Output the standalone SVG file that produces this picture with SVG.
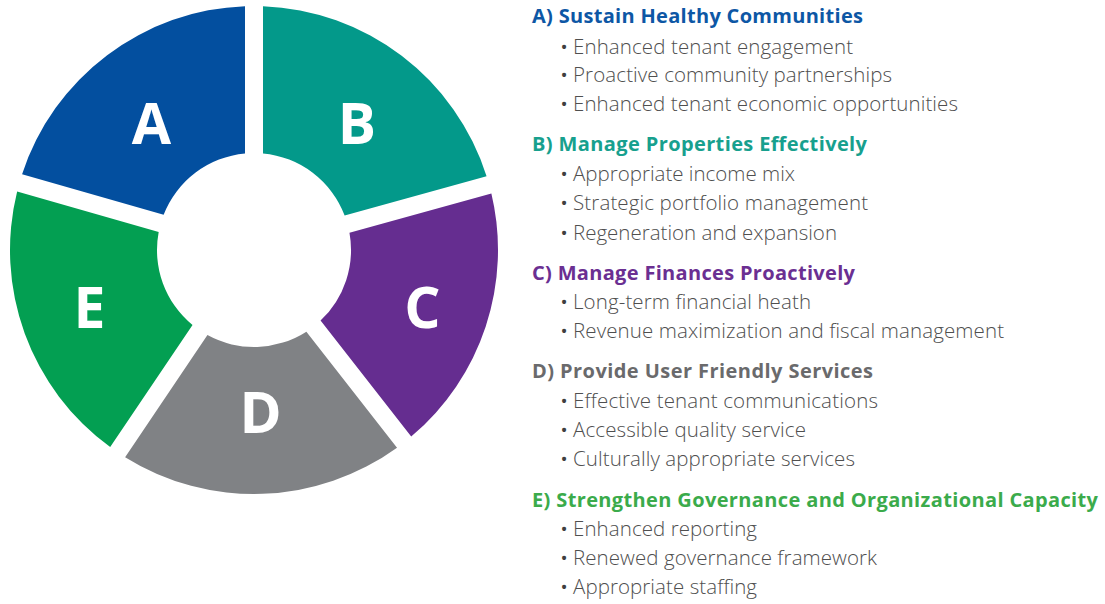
<svg xmlns="http://www.w3.org/2000/svg" width="1105" height="604" viewBox="0 0 1105 604">
<style>
.seg-letter{font-family:"Open Sans","Liberation Sans",sans-serif;font-weight:700;font-size:57px;fill:#ffffff;text-anchor:middle}
.head{font-family:"Open Sans","Liberation Sans",sans-serif;font-weight:700;font-size:20px}
.item{font-family:"Open Sans","Liberation Sans",sans-serif;font-weight:300;font-size:20.5px;fill:#4f4f4f}
.dot{font-family:"Open Sans","Liberation Sans",sans-serif;font-size:19px;fill:#3f3f3f;text-anchor:middle}
</style>
<rect width="1105" height="604" fill="#ffffff"/>
<g id="segment-A">
<path d="M163.64,214.73 L22.10,174.14 A244,244 0 0 1 245,6.17 L245,153.42 A97,97 0 0 0 163.64,214.73 Z" fill="#034f9f"/>
<text class="seg-letter" x="151.5" y="144">A</text>
</g>
<g id="segment-B">
<path d="M263,153.42 L263,6.17 A244,244 0 0 1 486.56,176.17 L344.66,215.52 A97,97 0 0 0 263,153.42 Z" fill="#03998a"/>
<text class="seg-letter" x="357" y="144">B</text>
</g>
<g id="segment-C">
<path d="M349.47,232.86 L491.37,193.51 A244,244 0 0 1 411.21,436.60 L320.55,320.57 A97,97 0 0 0 349.47,232.86 Z" fill="#652d90"/>
<text class="seg-letter" x="422.5" y="328">C</text>
</g>
<g id="segment-D">
<path d="M306.37,331.65 L397.03,447.68 A244,244 0 0 1 125.11,457.17 L207.45,335.10 A97,97 0 0 0 306.37,331.65 Z" fill="#808285"/>
<text class="seg-letter" x="260.5" y="433">D</text>
</g>
<g id="segment-E">
<path d="M192.53,325.04 L110.19,447.11 A244,244 0 0 1 17.14,191.44 L158.68,232.03 A97,97 0 0 0 192.53,325.04 Z" fill="#039f52"/>
<text class="seg-letter" x="89.5" y="328">E</text>
</g>
<g id="connectors"></g>
<g id="legend-A">
<text class="head" x="532" y="23" fill="#0d57a5" textLength="331" lengthAdjust="spacing">A) Sustain Healthy Communities</text>
<text class="dot" x="564" y="54">•</text><text class="item" x="573" y="54" textLength="280" lengthAdjust="spacing">Enhanced tenant engagement</text>
<text class="dot" x="564" y="82">•</text><text class="item" x="573" y="82" textLength="319" lengthAdjust="spacing">Proactive community partnerships</text>
<text class="dot" x="564" y="111">•</text><text class="item" x="573" y="111" textLength="385" lengthAdjust="spacing">Enhanced tenant economic opportunities</text>
</g>
<g id="legend-B">
<text class="head" x="532" y="151" fill="#17a08e" textLength="335" lengthAdjust="spacing">B) Manage Properties Effectively</text>
<text class="dot" x="564" y="181">•</text><text class="item" x="573" y="181" textLength="222" lengthAdjust="spacing">Appropriate income mix</text>
<text class="dot" x="564" y="210">•</text><text class="item" x="573" y="210" textLength="295" lengthAdjust="spacing">Strategic portfolio management</text>
<text class="dot" x="564" y="240">•</text><text class="item" x="573" y="240" textLength="264" lengthAdjust="spacing">Regeneration and expansion</text>
</g>
<g id="legend-C">
<text class="head" x="532" y="280" fill="#6b2f92" textLength="323" lengthAdjust="spacing">C) Manage Finances Proactively</text>
<text class="dot" x="564" y="309">•</text><text class="item" x="573" y="309" textLength="238" lengthAdjust="spacing">Long-term financial heath</text>
<text class="dot" x="564" y="338">•</text><text class="item" x="573" y="338" textLength="431" lengthAdjust="spacing">Revenue maximization and fiscal management</text>
</g>
<g id="legend-D">
<text class="head" x="532" y="378" fill="#6a6a6c" textLength="341" lengthAdjust="spacing">D) Provide User Friendly Services</text>
<text class="dot" x="564" y="408">•</text><text class="item" x="573" y="408" textLength="305" lengthAdjust="spacing">Effective tenant communications</text>
<text class="dot" x="564" y="437">•</text><text class="item" x="573" y="437" textLength="233" lengthAdjust="spacing">Accessible quality service</text>
<text class="dot" x="564" y="466">•</text><text class="item" x="573" y="466" textLength="282" lengthAdjust="spacing">Culturally appropriate services</text>
</g>
<g id="legend-E">
<text class="head" x="532" y="507" fill="#3bab4b" textLength="566" lengthAdjust="spacing">E) Strengthen Governance and Organizational Capacity</text>
<text class="dot" x="564" y="536">•</text><text class="item" x="573" y="536" textLength="184" lengthAdjust="spacing">Enhanced reporting</text>
<text class="dot" x="564" y="565">•</text><text class="item" x="573" y="565" textLength="304" lengthAdjust="spacing">Renewed governance framework</text>
<text class="dot" x="564" y="594">•</text><text class="item" x="573" y="594" textLength="184" lengthAdjust="spacing">Appropriate staffing</text>
</g>
</svg>
